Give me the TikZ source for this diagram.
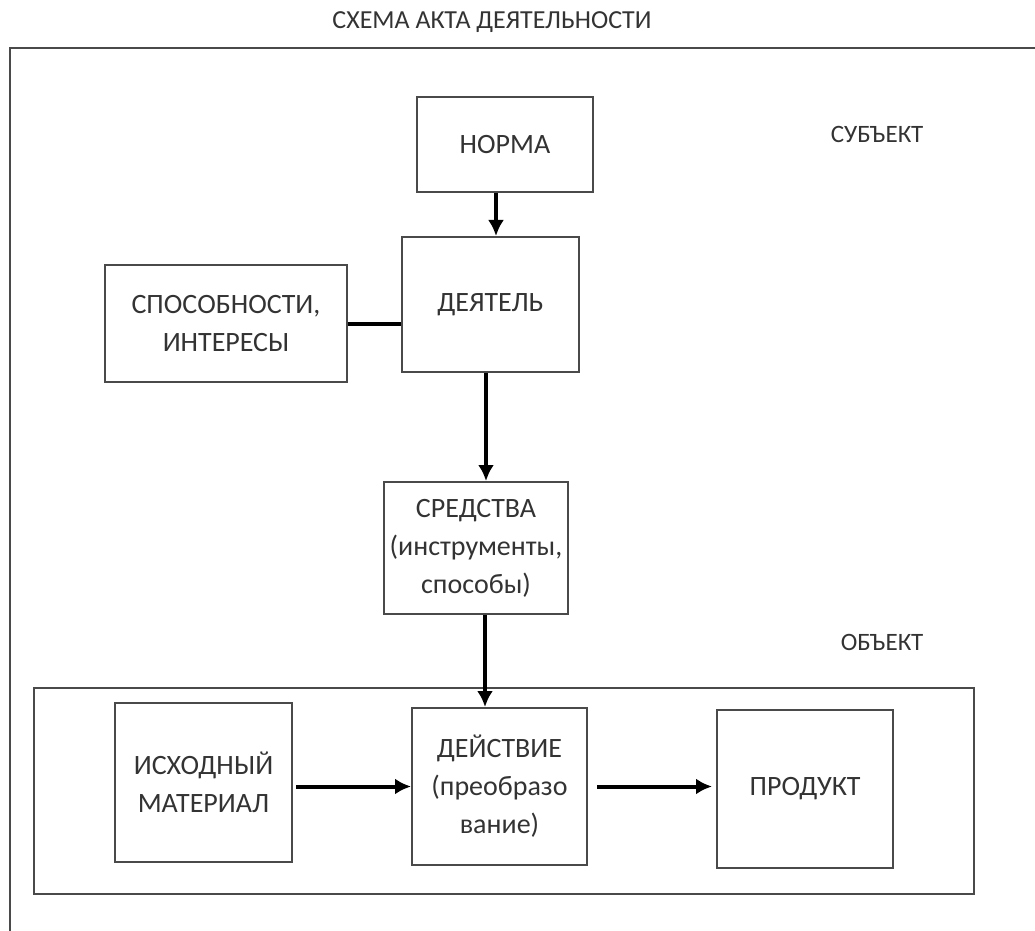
\documentclass[tikz,border=0pt]{standalone}
\usepackage{fontspec}
\setmainfont{Carlito}
\usetikzlibrary{arrows.meta}
\definecolor{framegray}{HTML}{4A4A4A}
\definecolor{textgray}{HTML}{333333}
\tikzset{
blok/.style={draw=framegray, line width=1pt, align=center, text=textgray, inner sep=0pt, font=\fontsize{14}{19}\selectfont},
sidetext/.style={text=textgray, font=\fontsize{12.5}{15}\selectfont},
conn/.style={line width=2pt, -{Latex[length=8pt,width=8pt]}}
}
\begin{document}
\begin{tikzpicture}[x=0.5pt,y=-0.5pt]
\useasboundingbox (0,0) rectangle (1035,931);
\draw[framegray, line width=1pt] (1035,48) -- (10,48) -- (10,931);
\draw[framegray, line width=1pt] (34,688) rectangle (974,894);
\node[sidetext, font=\fontsize{13}{15}\selectfont] (title) at (492,22) {СХЕМА АКТА ДЕЯТЕЛЬНОСТИ};
\node[sidetext] (subj) at (877,134) {СУБЪЕКТ};
\node[sidetext] (obj) at (882,642) {ОБЪЕКТ};
\node[blok, minimum width=88pt, minimum height=47.5pt] (norma) at (505,144.5) {НОРМА};
\node[blok, minimum width=88.5pt, minimum height=67.5pt] (dejatel) at (490.5,304.5) {ДЕЯТЕЛЬ};
\node[blok, minimum width=121pt, minimum height=58.5pt] (sposob) at (226,323.5) {СПОСОБНОСТИ,\\ИНТЕРЕСЫ};
\node[blok, minimum width=92pt, minimum height=66pt] (sredstva) at (476,548) {СРЕДСТВА\\(инструменты,\\способы)};
\node[blok, minimum width=88.5pt, minimum height=79.5pt] (ishod) at (203.5,782.5) {ИСХОДНЫЙ\\МАТЕРИАЛ};
\node[blok, minimum width=87.5pt, minimum height=78.5pt] (dejstvie) at (499.5,786.5) {ДЕЙСТВИЕ\\(преобразо\\вание)};
\node[blok, minimum width=88pt, minimum height=79pt] (produkt) at (805,789) {ПРОДУКТ};
\draw[conn] ([xshift=2.75pt]norma.south -| dejatel) -- ([xshift=2.75pt]dejatel.north);
\draw[line width=2pt] (sposob.east) -- (sposob.east -| dejatel.west);
\draw[conn] ([xshift=-2.25pt]dejatel.south) -- ([xshift=-2.25pt]dejatel.south |- sredstva.north);
\draw[conn] ([xshift=4.5pt]sredstva.south) -- ([xshift=4.5pt]sredstva.south |- dejstvie.north);
\draw[conn, shorten <=1.5pt] (ishod.east |- dejstvie) -- (dejstvie.west);
\draw[conn, shorten <=4.5pt, shorten >=2pt] (dejstvie.east) -- (dejstvie.east -| produkt.west);
\end{tikzpicture}
\end{document}
